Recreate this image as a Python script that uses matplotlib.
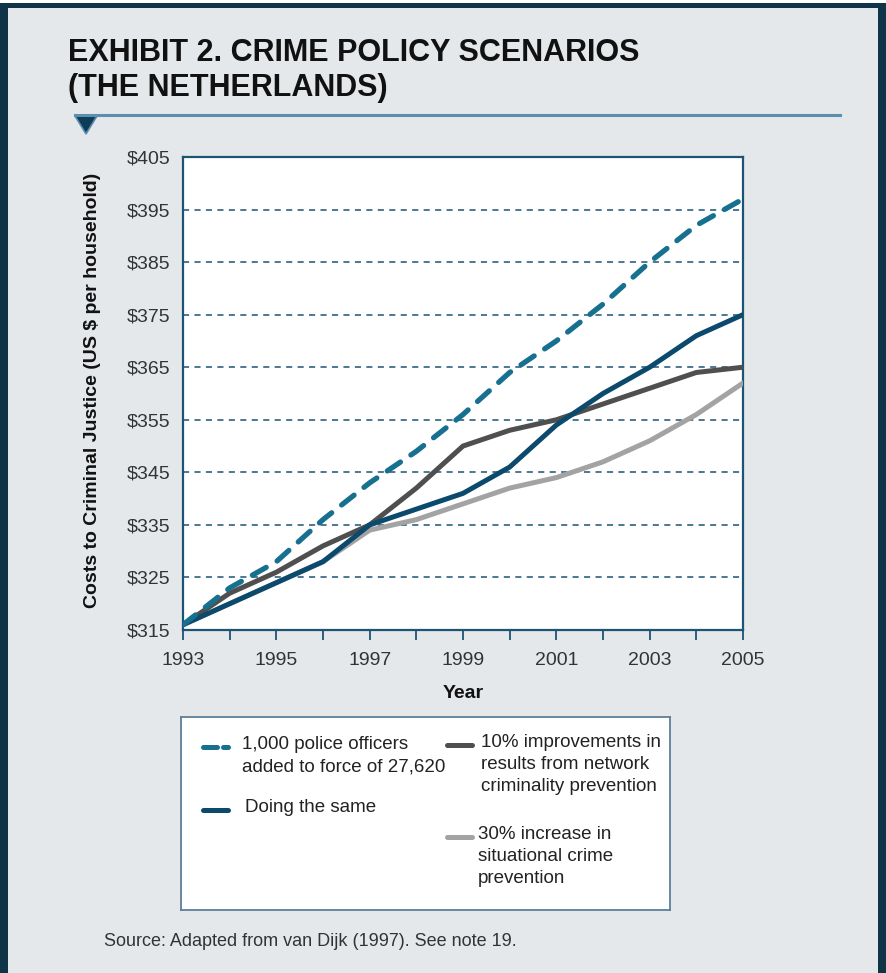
import matplotlib.pyplot as plt
from matplotlib.patches import Rectangle, Polygon
from matplotlib.lines import Line2D

plt.rcParams['font.family'] = ['Liberation Sans', 'DejaVu Sans']

# data
years = list(range(1993, 2006))
police = [316, 323, 328, 336, 343, 349, 356, 364, 370, 377, 385, 392, 397]
same = [316, 320, 324, 328, 335, 338, 341, 346, 354, 360, 365, 371, 375]
network = [316, 322, 326, 331, 335, 342, 350, 353, 355, 358, 361, 364, 365]
situational = [316, 320, 324, 328, 334, 336, 339, 342, 344, 347, 351, 356, 362]
yticks = list(range(315, 406, 10))
xlabels = [str(y) if y % 2 == 1 else '' for y in years]

labels = ['1,000 police officers\nadded to force of 27,620',
          'Doing the same',
          '10% improvements in\nresults from network\ncriminality prevention',
          '30% increase in\nsituational crime\nprevention']

c_police = '#17708f'
c_same = '#0b4a6c'
c_network = '#4f4f4f'
c_situ = '#a3a3a3'
c_axis = '#1d5475'
c_frame = '#0f3447'
bg = '#e5e8eb'

W, H = 886, 973
fig = plt.figure(figsize=(W / 100, H / 100), dpi=100)
fig.patch.set_facecolor(bg)

def fx(px):
    return px / W

def fy(py):
    return 1 - py / H

def frame_rect(x0, y0, x1, y1, color):
    fig.patches.append(Rectangle((fx(x0), fy(y1)), fx(x1) - fx(x0), fy(y0) - fy(y1),
                                 transform=fig.transFigure, facecolor=color,
                                 edgecolor='none', zorder=0))

# outer frame: left, right, top (no bottom edge)
frame_rect(0, 0, W, 3, 'white')
frame_rect(0, 3, 8, H, c_frame)
frame_rect(878, 3, W, H, c_frame)
frame_rect(0, 3, W, 8, c_frame)

# title
fig.text(fx(68), fy(53), 'EXHIBIT 2. CRIME POLICY SCENARIOS', fontsize=22, fontweight='bold',
         va='center', ha='left', color='#111111')
fig.text(fx(68), fy(88), '(THE NETHERLANDS)', fontsize=22, fontweight='bold',
         va='center', ha='left', color='#111111')
fig.lines.append(Line2D([fx(75), fx(840)], [fy(115), fy(115)], transform=fig.transFigure,
                        color='#5b8fb0', linewidth=2.2))
fig.patches.append(Polygon([[fx(75), fy(116)], [fx(97), fy(116)], [fx(86), fy(134)]],
                           closed=True, transform=fig.transFigure, facecolor='#0f3d58',
                           edgecolor='#5b8fb0', linewidth=1.2))

# main axes
ax = fig.add_axes([fx(183), fy(630), fx(743) - fx(183), fy(157) - fy(630)])
ax.set_facecolor('white')
ax.plot(years, situational, color=c_situ, linewidth=3.6, solid_capstyle='round', zorder=3)
ax.plot(years, network, color=c_network, linewidth=3.6, solid_capstyle='round', zorder=4)
ax.plot(years, same, color=c_same, linewidth=3.6, solid_capstyle='round', zorder=5)
ax.plot(years, police, color=c_police, linewidth=3.8, dashes=(3.0, 2.4),
        dash_capstyle='round', zorder=6)

ax.set_xlim(1993, 2005)
ax.set_ylim(315, 405)
ax.set_yticks(yticks)
ax.set_yticklabels(['$%d' % v for v in yticks])
ax.set_xticks(years)
ax.set_xticklabels(xlabels)
for v in yticks[1:-1]:
    ax.axhline(v, color=c_axis, linewidth=1.1, linestyle=(0, (4, 3.5)), zorder=1)
for s in ax.spines.values():
    s.set_color(c_axis)
    s.set_linewidth(1.6)
ax.tick_params(axis='y', length=0, pad=9, labelsize=14, labelcolor='#333333')
ax.tick_params(axis='x', length=7, width=1.3, color=c_axis, direction='out', pad=9,
               labelsize=14, labelcolor='#333333')

fig.text(fx(93), fy(390), 'Costs to Criminal Justice (US $ per household)', rotation=90,
         fontsize=14, fontweight='bold', ha='center', va='center', color='#111111')
fig.text(fx(463), fy(693), 'Year', fontsize=14, fontweight='bold', ha='center',
         va='center', color='#111111')

# legend box
lx0, lx1, ly0, ly1 = 181, 670, 717, 910
lax = fig.add_axes([fx(lx0), fy(ly1), fx(lx1) - fx(lx0), fy(ly0) - fy(ly1)])
lax.set_xlim(lx0, lx1)
lax.set_ylim(ly1, ly0)
lax.set_xticks([])
lax.set_yticks([])
lax.set_facecolor('white')
for s in lax.spines.values():
    s.set_color('#5d7f98')
    s.set_linewidth(1.3)

entries = [
    (203, 747, c_police, True, 242, labels[0]),
    (203, 810, c_same, False, 245, labels[1]),
    (447, 745, c_network, False, 481, labels[2]),
    (447, 837, c_situ, False, 478, labels[3]),
]
for x0, y0, col, dashed, tx, lab in entries:
    if dashed:
        lax.plot([x0, x0 + 14], [y0, y0], color=col, linewidth=3.6, solid_capstyle='round')
        lax.plot([x0 + 20, x0 + 25], [y0, y0], color=col, linewidth=3.6, solid_capstyle='round')
    else:
        lax.plot([x0, x0 + 25], [y0, y0], color=col, linewidth=3.6, solid_capstyle='round')
    lax.text(tx, y0 - 11, lab, fontsize=13.5, va='top', ha='left', color='#222222',
             linespacing=1.4)

fig.text(fx(104), fy(942), 'Source: Adapted from van Dijk (1997). See note 19.', fontsize=13,
         va='center', ha='left', color='#333333')

fig.savefig('out.png', dpi=100, facecolor=bg)
